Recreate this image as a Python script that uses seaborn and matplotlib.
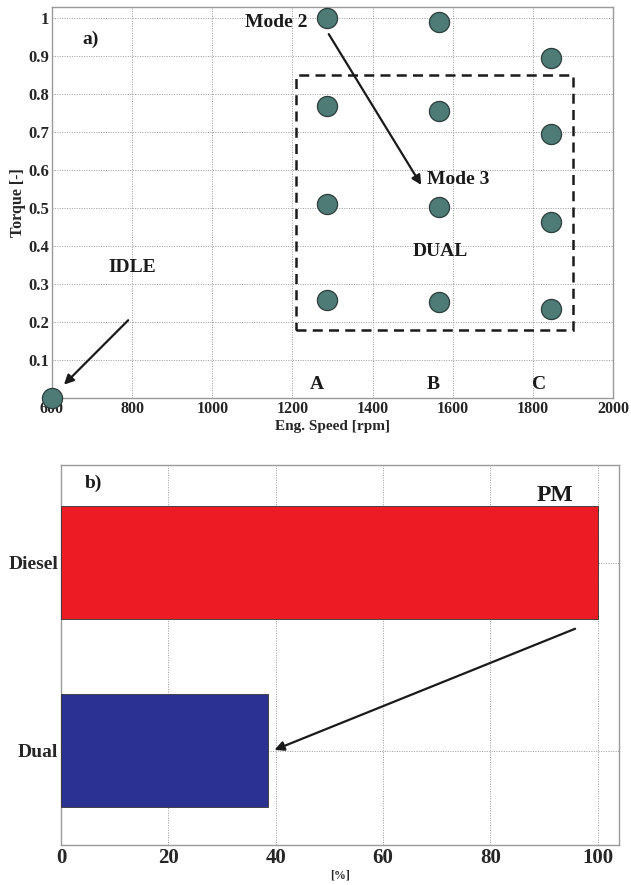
import matplotlib
matplotlib.use("Agg")
import matplotlib.pyplot as plt
from matplotlib.patches import Rectangle
import seaborn as sns
import pandas as pd

# ---- data (a) ----
speed = [600, 1287, 1287, 1287, 1287, 1565, 1565, 1565, 1565, 1845, 1845, 1845, 1845]
torque = [0.0, 1.0, 0.77, 0.512, 0.258, 0.992, 0.755, 0.504, 0.253, 0.897, 0.695, 0.464, 0.235]
x_ticks = [600, 800, 1000, 1200, 1400, 1600, 1800, 2000]
y_ticks = [0.1, 0.2, 0.3, 0.4, 0.5, 0.6, 0.7, 0.8, 0.9, 1.0]
y_ticklabels = ["0.1", "0.2", "0.3", "0.4", "0.5", "0.6", "0.7", "0.8", "0.9", "1"]

# ---- data (b) ----
fuel_modes = ["Diesel", "Dual"]
pm_percent = [100, 38.5]
pm_ticks = [0, 20, 40, 60, 80, 100]

sns.set_theme(style="whitegrid")
plt.rcParams["font.family"] = ["Liberation Serif", "DejaVu Serif"]
plt.rcParams["font.weight"] = "bold"

fig = plt.figure(figsize=(6.31, 8.85), dpi=100)
ax1 = fig.add_axes([0.0824, 0.5503, 0.8891, 0.4417])
ax2 = fig.add_axes([0.0967, 0.0452, 0.8843, 0.4294])

grid_kw = dict(color="#9a9a9a", linestyle=(0, (1, 1.5)), linewidth=0.7)
spine_col = "#9a9a9a"

# ---------- panel a ----------
df_a = pd.DataFrame({"speed": speed, "torque": torque})
sns.scatterplot(data=df_a, x="speed", y="torque", ax=ax1, s=210,
                color="#4e7b76", edgecolor="#2c3e3c", linewidth=0.9, zorder=5, clip_on=False)
ax1.set_xlim(600, 2000)
ax1.set_ylim(0, 1.03)
ax1.set_xticks(x_ticks)
ax1.set_xticklabels([str(t) for t in x_ticks], fontsize=11.5, fontweight="bold")
ax1.set_yticks(y_ticks)
ax1.set_yticklabels(y_ticklabels, fontsize=12, fontweight="bold")
ax1.grid(True, **grid_kw)
ax1.set_xlabel("Eng. Speed [rpm]", fontsize=11, fontweight="bold", labelpad=2)
ax1.set_ylabel("Torque [-]", fontsize=11.5, fontweight="bold", labelpad=2)
ax1.tick_params(axis="both", length=0, pad=2)
for s in ax1.spines.values():
    s.set_color(spine_col); s.set_linewidth(1.0); s.set_visible(True)

ax1.add_patch(Rectangle((1210, 0.18), 690, 0.67, fill=False, edgecolor="#1a1a1a",
                        linestyle=(0, (4, 2.5)), linewidth=1.8, zorder=4))
txt = dict(fontsize=14, fontweight="bold", color="#1a1a1a")
ax1.text(675, 0.945, "a)", ha="left", va="center", **txt)
ax1.text(1237, 0.99, "Mode 2", ha="right", va="center", **txt)
ax1.text(1537, 0.575, "Mode 3", ha="left", va="center", **txt)
ax1.text(1570, 0.385, "DUAL", ha="center", va="center", **txt)
ax1.text(800, 0.345, "IDLE", ha="center", va="center", **txt)
for lab, xv in zip(["A", "B", "C"], [1260, 1552, 1815]):
    ax1.text(xv, 0.035, lab, ha="center", va="center", **txt)
arr = dict(arrowstyle="-|>", color="#1a1a1a", lw=1.6, mutation_scale=14)
ax1.annotate("", xy=(1525, 0.555), xytext=(1287, 0.965), arrowprops=arr, zorder=6)
ax1.annotate("", xy=(625, 0.03), xytext=(795, 0.21), arrowprops=arr, zorder=6)

# ---------- panel b ----------
df_b = pd.DataFrame({"mode": fuel_modes, "pm": pm_percent})
sns.barplot(data=df_b, x="pm", y="mode", hue="mode", orient="h", ax=ax2,
            palette=["#ec1c24", "#2b3190"], saturation=1, width=0.6, legend=False,
            edgecolor="#333333", linewidth=0.6, zorder=3)
ax2.set_xlim(0, 104)
ax2.set_ylim(1.5, -0.52)
ax2.set_xticks(pm_ticks)
ax2.set_xticklabels([str(t) for t in pm_ticks], fontsize=15, fontweight="bold")
ax2.set_yticks([0, 1])
ax2.set_yticklabels(fuel_modes, fontsize=14, fontweight="bold")
ax2.grid(True, **grid_kw)
ax2.set_axisbelow(True)
ax2.set_xlabel("[%]", fontsize=8.5, fontweight="bold", labelpad=1)
ax2.set_ylabel("")
ax2.tick_params(axis="both", length=0, pad=2)
for s in ax2.spines.values():
    s.set_color(spine_col); s.set_linewidth(1.0); s.set_visible(True)
ax2.text(4.5, -0.42, "b)", ha="left", va="center", **txt)
ax2.text(92, -0.36, "PM", ha="center", va="center", fontsize=17, fontweight="bold", color="#1a1a1a")
ax2.annotate("", xy=(39.3, 1.0), xytext=(96.3, 0.345), arrowprops=arr, zorder=6)

fig.savefig("out.png", dpi=100)
